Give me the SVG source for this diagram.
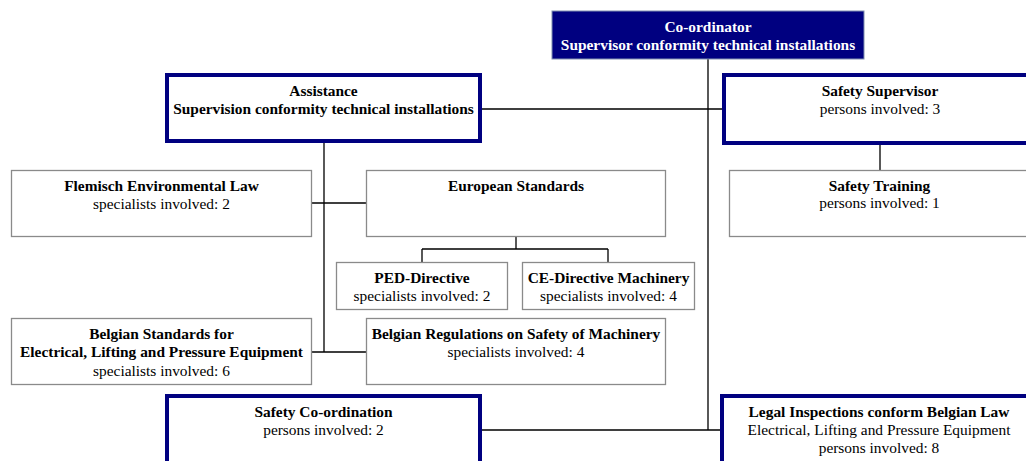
<svg xmlns="http://www.w3.org/2000/svg" width="1026" height="461" viewBox="0 0 1026 461">
<style>
.thin{fill:#fff;stroke:#8a8a8a;stroke-width:1.3}
.thick{fill:#fff;stroke:#000080;stroke-width:4}
.navy{fill:#000080;stroke:#8090b0;stroke-width:1}
text{font-family:"Liberation Serif","Times New Roman",serif;font-size:15.4px;text-anchor:middle;fill:#000}
.b{font-weight:bold}
.w{fill:#fff}
.c{fill:none;stroke:#000;stroke-width:1.3}
</style>
<rect width="1026" height="461" fill="#fff"/>
<g id="connectors">
<path class="c" d="M708 59V430M482 430H720M482 109H722M324 143V352M311 203H366M311 352H366M880 145V170M516 237V249M422 249H608M422 249V262M608 249V262"/>
</g>
<g id="coordinator">
<rect class="navy" x="552" y="11" width="312" height="48"/>
<text class="b w" x="708" y="31.5">Co-ordinator</text>
<text class="b w" x="708" y="49.5">Supervisor conformity technical installations</text>
</g>
<g id="assistance">
<rect class="thick" x="167" y="75" width="313" height="66"/>
<text class="b" x="323.5" y="96">Assistance</text>
<text class="b" x="323.5" y="114">Supervision conformity technical installations</text>
</g>
<g id="safety-supervisor">
<rect class="thick" x="724" y="75" width="313" height="68"/>
<text class="b" x="880" y="96">Safety Supervisor</text>
<text x="880" y="114">persons involved: 3</text>
</g>
<g id="safety-training">
<rect class="thin" x="729.5" y="170.5" width="300" height="66"/>
<text class="b" x="879.5" y="190.5">Safety Training</text>
<text x="879.5" y="208">persons involved: 1</text>
</g>
<g id="flemisch">
<rect class="thin" x="11.5" y="170.5" width="300" height="66"/>
<text class="b" x="161.5" y="191">Flemisch Environmental Law</text>
<text x="161.5" y="208.5">specialists involved: 2</text>
</g>
<g id="european-standards">
<rect class="thin" x="366.5" y="170.5" width="299" height="66"/>
<text class="b" x="516" y="191">European Standards</text>
</g>
<g id="ped-directive">
<rect class="thin" x="336.5" y="262.5" width="171" height="47"/>
<text class="b" x="422" y="282.5">PED-Directive</text>
<text x="422" y="300.5">specialists involved: 2</text>
</g>
<g id="ce-directive">
<rect class="thin" x="522.5" y="262.5" width="172" height="47"/>
<text class="b" x="608.5" y="282.5">CE-Directive Machinery</text>
<text x="608.5" y="300.5">specialists involved: 4</text>
</g>
<g id="belgian-standards">
<rect class="thin" x="11.5" y="318.5" width="300" height="66"/>
<text class="b" x="161.5" y="338.5">Belgian Standards for</text>
<text class="b" x="161.5" y="357">Electrical, Lifting and Pressure Equipment</text>
<text x="161.5" y="375.5">specialists involved: 6</text>
</g>
<g id="belgian-regulations">
<rect class="thin" x="366.5" y="318.5" width="299" height="66"/>
<text class="b" x="516" y="338.5">Belgian Regulations on Safety of Machinery</text>
<text x="516" y="357">specialists involved: 4</text>
</g>
<g id="safety-coordination">
<rect class="thick" x="167" y="396" width="313" height="80"/>
<text class="b" x="323.5" y="417">Safety Co-ordination</text>
<text x="323.5" y="435">persons involved: 2</text>
</g>
<g id="legal-inspections">
<rect class="thick" x="722" y="396" width="315" height="80"/>
<text class="b" x="879" y="417">Legal Inspections conform Belgian Law</text>
<text x="879" y="435">Electrical, Lifting and Pressure Equipment</text>
<text x="879" y="453">persons involved: 8</text>
</g>
</svg>
